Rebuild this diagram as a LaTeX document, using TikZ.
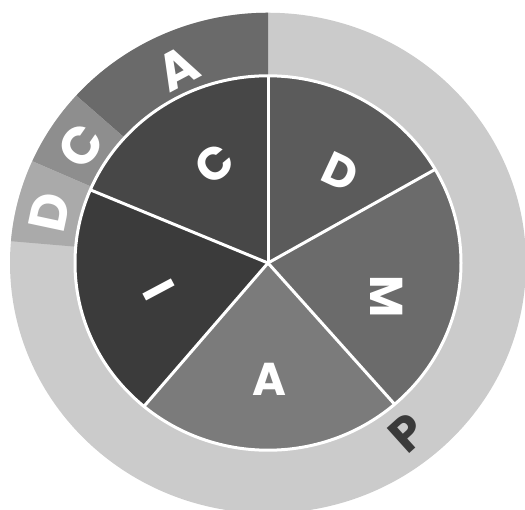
\documentclass[tikz,border=0pt]{standalone}
\usepackage{fontspec}
\setmainfont{Poppins}
\usepackage{tikz}
\usetikzlibrary{positioning}
\definecolor{mypieC}{RGB}{71,71,71}
\definecolor{mypieI}{RGB}{59,59,59}
\definecolor{mypieA}{RGB}{123,123,123}
\definecolor{mypieM}{RGB}{107,107,107}
\definecolor{mypieD}{RGB}{91,91,91}
\definecolor{myringA}{RGB}{106,106,106}
\definecolor{myringC}{RGB}{142,142,142}
\definecolor{myringD}{RGB}{170,170,170}
\definecolor{myringlt}{RGB}{203,203,203}
\definecolor{mydark}{RGB}{58,58,58}
\tikzset{
  piesep/.style={draw=white, line width=3pt},
  pielabel/.style={text=white, inner sep=0pt,
    font=\fontsize{46}{46}\selectfont\bfseries},
  ringlabel/.style={text=white, inner sep=0pt,
    font=\fontsize{52}{52}\selectfont\bfseries},
  darklabel/.style={ringlabel, text=mydark,
    font=\fontsize{48}{48}\selectfont\bfseries}
}

\begin{document}
\begin{tikzpicture}[x=1pt, y=1pt]
  \useasboundingbox (0,0) rectangle (525,509);
  \begin{scope}[shift={(268,246)}, yscale=0.97]
    % outer ring
    \fill[myringlt] (0,0) circle (258);
    \fill[myringA] (0,0) -- (90:258) arc (90:138:258) -- cycle;
    \fill[myringC] (0,0) -- (138:258) arc (138:156:258) -- cycle;
    \fill[myringD] (0,0) -- (156:258) arc (156:175:258) -- cycle;
    % pie
    \fill[mypieD] (0,0) -- (30:193) arc (30:90:193) -- cycle;
    \fill[mypieC] (0,0) -- (90:193) arc (90:157:193) -- cycle;
    \fill[mypieI] (0,0) -- (157:193) arc (157:230:193) -- cycle;
    \fill[mypieA] (0,0) -- (230:193) arc (230:311:193) -- cycle;
    \fill[mypieM] (0,0) -- (311:193) arc (311:390:193) -- cycle;
    \draw[piesep] (0,0) circle (193);
    \foreach \a in {30,90,157,230,311}
      \draw[piesep] (0,0) -- (\a:193);
  \end{scope}

  \node[pielabel, rotate=40] (pC) at (215,345) {C};
  \node[pielabel, rotate=-25] (pD) at (340,337) {D};
  \node[pielabel, rotate=-90] (pM) at (387,212) {M};
  \node[pielabel, rotate=-62] (pI) at (159,219) {I};
  \node[pielabel] (pA) at (269,130) {A};

  \node[ringlabel, rotate=28] (rA) at (178,441) {A};
  \node[ringlabel, rotate=55] (rC) at (81,363) {C};
  \node[ringlabel, rotate=78] (rD) at (50,297) {D};
  \node[darklabel, rotate=42] (rP) at (407,76) {P};
\end{tikzpicture}
\end{document}
